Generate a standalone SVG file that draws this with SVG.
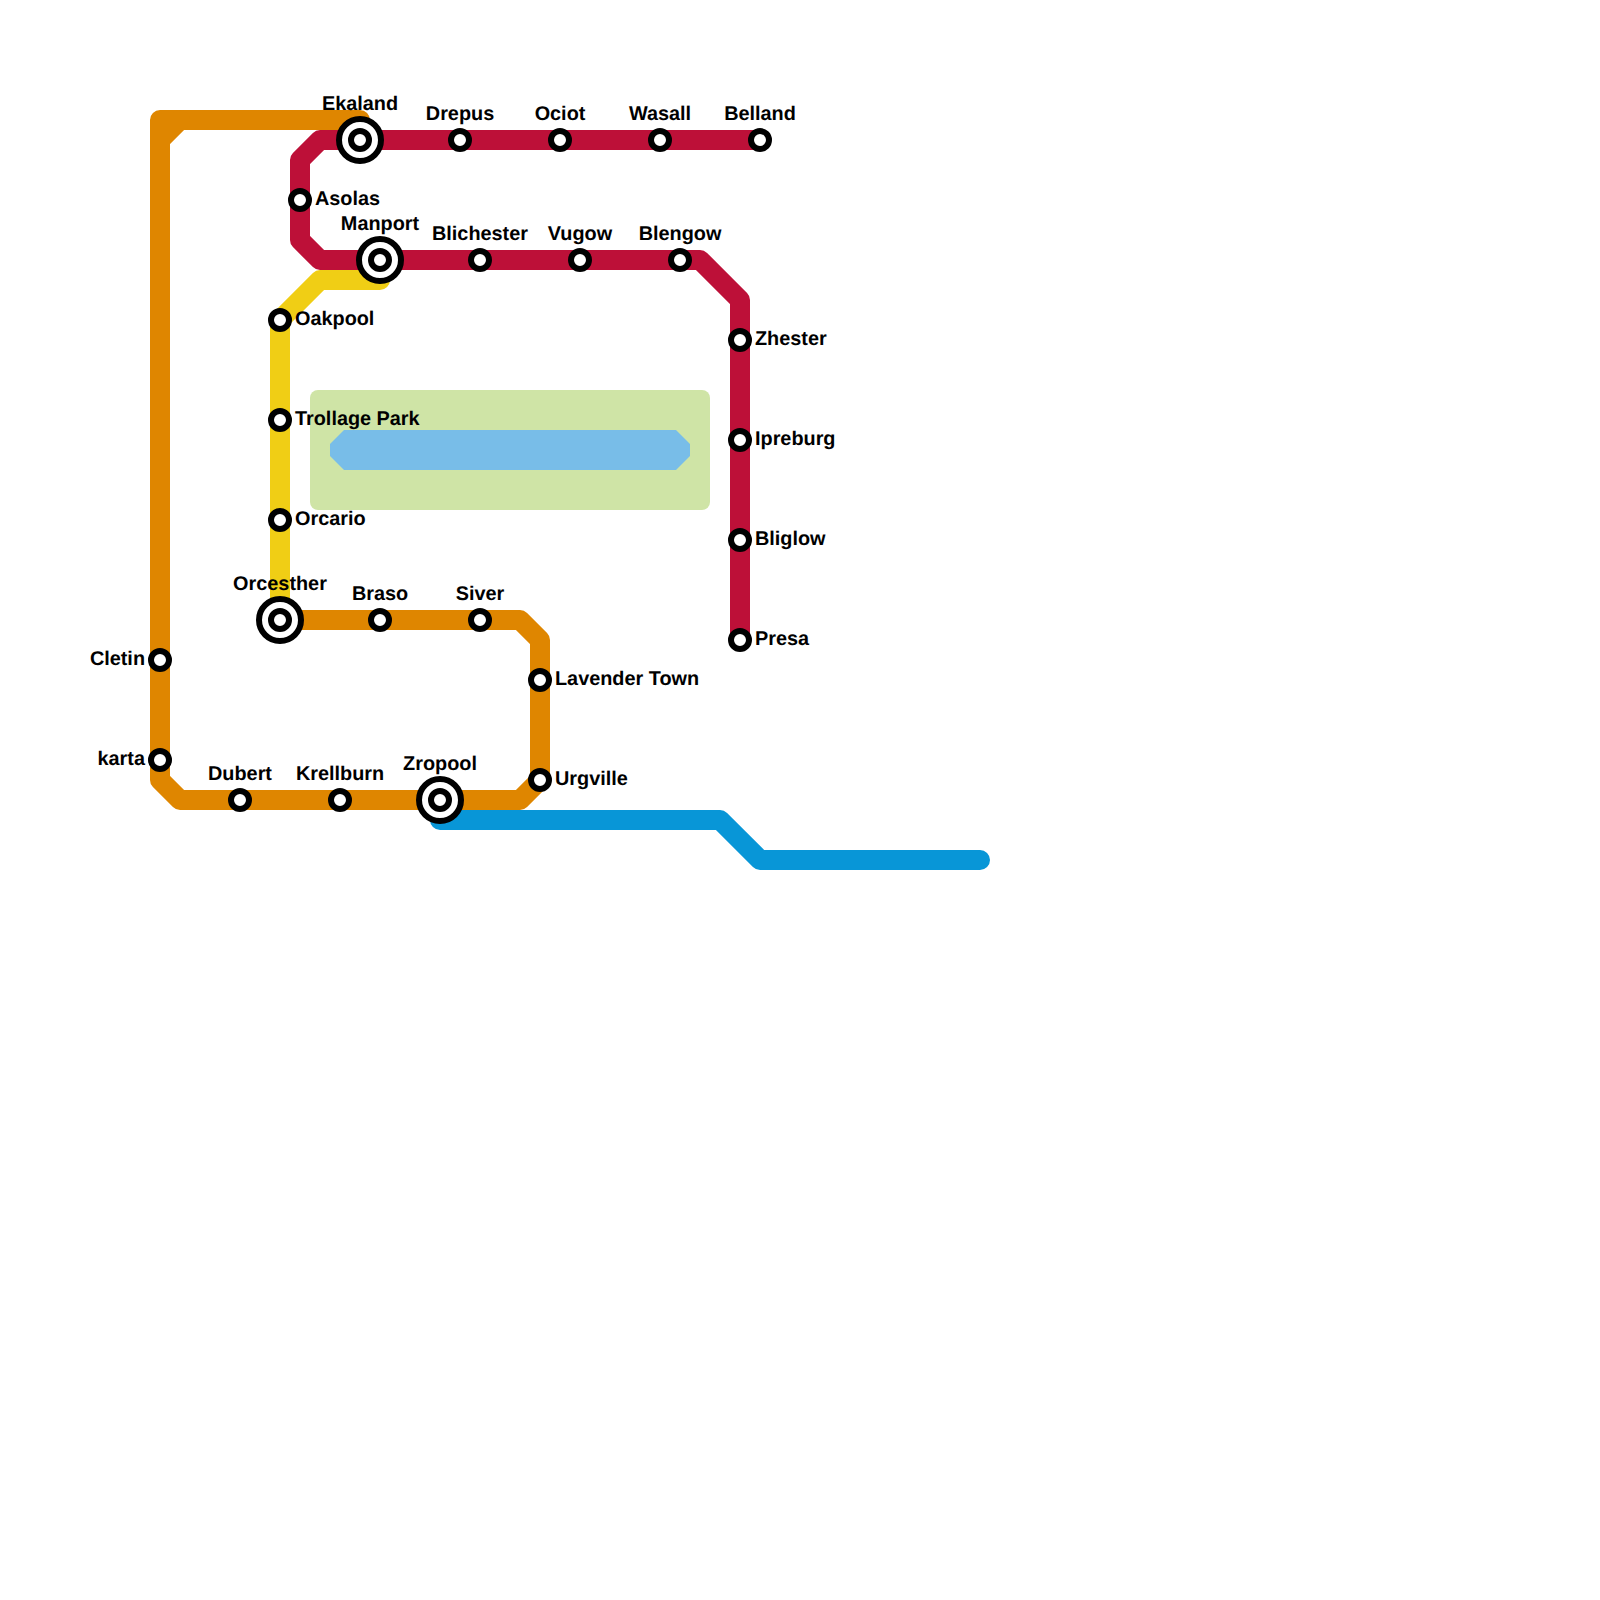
<svg xmlns="http://www.w3.org/2000/svg" width="1600" height="1600" viewBox="0 0 1600 1600">
<style>
.line{fill:none;stroke-width:20;stroke-linejoin:round;stroke-linecap:round}
.st{fill:#fff;stroke:#000;stroke-width:6}
text{font-family:"Liberation Sans",Arial,sans-serif;font-weight:700;font-size:19.85px;fill:#000;text-rendering:geometricPrecision}
.a{text-anchor:middle}
.l{text-anchor:end}
</style>
<defs>
<g id="stop"><circle class="st" r="9"/></g>
<g id="hub"><circle class="st" r="21"/><circle class="st" r="9"/></g>
</defs>
<rect x="310" y="390" width="400" height="120" rx="8" fill="#cfe4a6"/>
<polygon points="344,430 676,430 690,444 690,456 676,470 344,470 330,456 330,444" fill="#78bde8"/>
<g id="connectors">
<path class="line" stroke="#0896d7" d="M440 820H720L760 860H980"/>
<path class="line" stroke="#f0ce15" d="M380 280H320L280 320V620"/>
<path class="line" stroke="#df8600" d="M360 120H160V780L180 800H520L540 780V640L520 620H280"/>
<path class="line" stroke="#df8600" d="M160 140L180 120"/>
<path class="line" stroke="#bd1038" d="M760 140H320L300 160V240L320 260H700L740 300V640"/>
</g>
<g id="ekaland"><use href="#hub" x="360" y="140"/><text class="a" x="360" y="110">Ekaland</text></g>
<g id="drepus"><use href="#stop" x="460" y="140"/><text class="a" x="460" y="120">Drepus</text></g>
<g id="ociot"><use href="#stop" x="560" y="140"/><text class="a" x="560" y="120">Ociot</text></g>
<g id="wasall"><use href="#stop" x="660" y="140"/><text class="a" x="660" y="120">Wasall</text></g>
<g id="belland"><use href="#stop" x="760" y="140"/><text class="a" x="760" y="120">Belland</text></g>
<g id="asolas"><use href="#stop" x="300" y="200"/><text x="315" y="205">Asolas</text></g>
<g id="manport"><use href="#hub" x="380" y="260"/><text class="a" x="380" y="230">Manport</text></g>
<g id="blichester"><use href="#stop" x="480" y="260"/><text class="a" x="480" y="240">Blichester</text></g>
<g id="vugow"><use href="#stop" x="580" y="260"/><text class="a" x="580" y="240">Vugow</text></g>
<g id="blengow"><use href="#stop" x="680" y="260"/><text class="a" x="680" y="240">Blengow</text></g>
<g id="zhester"><use href="#stop" x="740" y="340"/><text x="755" y="345">Zhester</text></g>
<g id="ipreburg"><use href="#stop" x="740" y="440"/><text x="755" y="445">Ipreburg</text></g>
<g id="bliglow"><use href="#stop" x="740" y="540"/><text x="755" y="545">Bliglow</text></g>
<g id="presa"><use href="#stop" x="740" y="640"/><text x="755" y="645">Presa</text></g>
<g id="oakpool"><use href="#stop" x="280" y="320"/><text x="295" y="325">Oakpool</text></g>
<g id="trollage-park"><use href="#stop" x="280" y="420"/><text x="295" y="425">Trollage Park</text></g>
<g id="orcario"><use href="#stop" x="280" y="520"/><text x="295" y="525">Orcario</text></g>
<g id="orcesther"><use href="#hub" x="280" y="620"/><text class="a" x="280" y="590">Orcesther</text></g>
<g id="braso"><use href="#stop" x="380" y="620"/><text class="a" x="380" y="600">Braso</text></g>
<g id="siver"><use href="#stop" x="480" y="620"/><text class="a" x="480" y="600">Siver</text></g>
<g id="lavender-town"><use href="#stop" x="540" y="680"/><text x="555" y="685">Lavender Town</text></g>
<g id="urgville"><use href="#stop" x="540" y="780"/><text x="555" y="785">Urgville</text></g>
<g id="zropool"><use href="#hub" x="440" y="800"/><text class="a" x="440" y="770">Zropool</text></g>
<g id="krellburn"><use href="#stop" x="340" y="800"/><text class="a" x="340" y="780">Krellburn</text></g>
<g id="dubert"><use href="#stop" x="240" y="800"/><text class="a" x="240" y="780">Dubert</text></g>
<g id="cletin"><use href="#stop" x="160" y="660"/><text class="l" x="145" y="665">Cletin</text></g>
<g id="karta"><use href="#stop" x="160" y="760"/><text class="l" x="145" y="765">karta</text></g>
</svg>
